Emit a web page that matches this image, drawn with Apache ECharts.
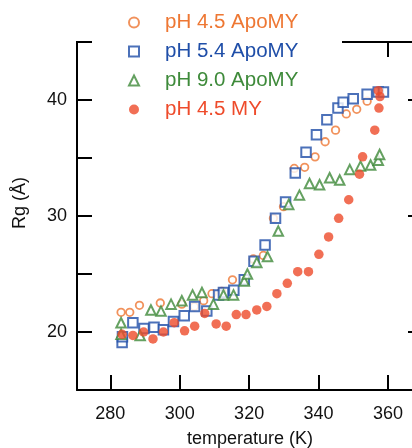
<!DOCTYPE html>
<html><head><meta charset="utf-8">
<script src="https://cdn.jsdelivr.net/npm/echarts@6/dist/echarts.min.js"></script>
<style>html,body{margin:0;padding:0;background:#fff}#c{width:412px;height:448px}</style>
</head><body><div id="c"></div>
<script>
const seriesNames = ['pH 4.5 ApoMY', 'pH 5.4 ApoMY', 'pH 9.0 ApoMY', 'pH 4.5 MY'];
const seriesColors = ['#EE7733', '#1F4EA8', '#3E8A3A', '#EE4B2B'];
const xTicks = [280, 300, 320, 340, 360];
const xTicksTopVisible = [360];
const yTicks = [20, 25, 30, 35, 40];
const yLabels = [20, 30, 40];

const apo45 = [[283.1,21.7],[285.6,21.7],[288.4,22.3],[294.4,22.5],[300.6,22.4],[304.2,22.2],[306.9,22.7],[309.3,23.3],[312.1,23.5],[315.2,24.5],[321.2,26.3],[324.1,26.6],[327.0,29.8],[329.9,30.8],[333.0,34.1],[336.0,34.2],[339.0,35.1],[341.9,36.4],[344.9,37.4],[348.0,38.8],[351.0,39.2],[354.0,39.9]];
const apo54 = [[283.4,19.1],[283.5,19.6],[286.5,20.8],[289.7,20.3],[292.6,20.4],[295.3,20.2],[298.2,20.9],[301.3,21.4],[304.3,22.2],[307.8,21.8],[311.2,23.2],[312.6,23.4],[315.6,23.6],[318.6,24.5],[321.4,26.1],[324.6,27.5],[327.6,29.8],[330.5,31.2],[333.3,33.7],[336.4,35.5],[339.4,37.0],[342.4,38.3],[345.6,39.3],[347.1,39.8],[350.0,40.1],[354.0,40.5],[357.2,40.7],[358.7,40.7]];
const apo90 = [[283.1,20.8],[283.1,19.8],[288.6,19.7],[291.7,21.9],[294.6,21.8],[297.5,22.4],[300.6,22.7],[303.7,23.2],[306.4,23.4],[309.7,22.4],[312.6,23.2],[315.5,23.2],[318.6,24.4],[319.5,25.0],[322.2,26.0],[325.3,26.5],[328.4,28.7],[331.4,31.0],[334.5,31.8],[337.4,32.8],[340.3,32.7],[343.2,33.3],[346.1,33.1],[349.0,34.0],[352.1,34.3],[355.0,34.4],[357.2,34.8],[357.6,35.3]];
const my45 = [[283.4,19.8],[286.5,19.7],[289.6,20.0],[292.3,19.4],[295.3,20.0],[298.4,20.8],[301.4,20.1],[304.3,20.5],[307.2,21.6],[310.5,20.7],[313.4,20.5],[316.3,21.5],[319.1,21.5],[322.2,21.9],[325.1,22.2],[328.0,23.3],[331.0,24.2],[334.0,25.2],[337.1,25.2],[340.1,26.7],[342.9,28.2],[345.8,29.8],[348.7,31.4],[351.8,33.6],[352.7,35.1],[356.2,37.4],[357.4,39.3],[357.7,40.3],[357.2,40.8]];

const FONT = '"Liberation Sans", Arial, sans-serif';
const chart = echarts.init(document.getElementById('c'), null, {renderer: 'canvas'});
const axisLineStyle = {color: '#000', width: 2};
chart.setOption({
  animation: false,
  backgroundColor: '#fff',
  grid: {left: 77, top: 42, width: 346, bottom: 58, outerBoundsMode: 'none', containLabel: false},
  legend: {
    orient: 'vertical', left: 128, top: 12, padding: 0,
    itemWidth: 10, itemHeight: 10, itemGap: 8, symbolKeepAspect: true,
    textStyle: {fontFamily: FONT, fontSize: 20.5, padding: [0, 0, 0, 21]},
    data: seriesNames.map((n, i) => ({name: n, textStyle: {color: seriesColors[i]}}))
  },
  graphic: [
    {type: 'line', z: 100, shape: {x1: 76, y1: 42, x2: 92, y2: 42}, style: {stroke: '#000', lineWidth: 2}},
    {type: 'line', z: 100, shape: {x1: 342, y1: 42, x2: 424, y2: 42}, style: {stroke: '#000', lineWidth: 2}}
  ],
  xAxis: [{
    type: 'value', min: 270.4, max: 370.1, position: 'bottom',
    name: 'temperature (K)', nameLocation: 'middle', nameGap: 40,
    nameTextStyle: {fontFamily: FONT, fontSize: 18, color: '#111'},
    axisLine: {show: true, lineStyle: axisLineStyle},
    axisTick: {show: true, inside: true, length: 15, lineStyle: axisLineStyle, customValues: xTicks},
    axisLabel: {fontFamily: FONT, fontSize: 18, color: '#111', margin: 15, customValues: xTicks},
    splitLine: {show: false}
  }, {
    type: 'value', min: 270.4, max: 370.1, position: 'top',
    axisLine: {show: false},
    axisTick: {show: true, inside: true, length: 15, lineStyle: axisLineStyle, customValues: xTicksTopVisible},
    axisLabel: {show: false}, splitLine: {show: false}
  }],
  yAxis: [{
    type: 'value', min: 15, max: 45, position: 'left',
    name: 'Rg (Å)', nameLocation: 'middle', nameGap: 48,
    nameTextStyle: {fontFamily: FONT, fontSize: 18, color: '#111', padding: [0, 0, 0, 26]},
    axisLine: {show: true, lineStyle: axisLineStyle},
    axisTick: {show: true, inside: true, length: 15, lineStyle: axisLineStyle, customValues: yTicks},
    axisLabel: {fontFamily: FONT, fontSize: 18, color: '#111', margin: 10, customValues: yLabels},
    splitLine: {show: false}
  }, {
    type: 'value', min: 15, max: 45, position: 'right',
    axisLine: {show: true, lineStyle: axisLineStyle},
    axisTick: {show: true, inside: true, length: 15, lineStyle: axisLineStyle, customValues: yLabels},
    axisLabel: {show: false}, splitLine: {show: false}
  }],
  series: [
    {name: seriesNames[0], type: 'scatter', data: apo45, symbol: 'circle', symbolSize: 7.5,
     itemStyle: {color: '#fff', borderColor: seriesColors[0], borderWidth: 1.8}},
    {name: seriesNames[1], type: 'scatter', data: apo54, symbol: 'rect', symbolSize: 9.5,
     itemStyle: {color: '#fff', borderColor: seriesColors[1], borderWidth: 2}},
    {name: seriesNames[2], type: 'scatter', data: apo90, symbol: 'triangle', symbolSize: 9.5,
     itemStyle: {color: '#fff', borderColor: seriesColors[2], borderWidth: 2}},
    {name: seriesNames[3], type: 'scatter', data: my45, symbol: 'circle', symbolSize: 9.5,
     itemStyle: {color: seriesColors[3], borderWidth: 0}}
  ]
});
</script></body></html>
